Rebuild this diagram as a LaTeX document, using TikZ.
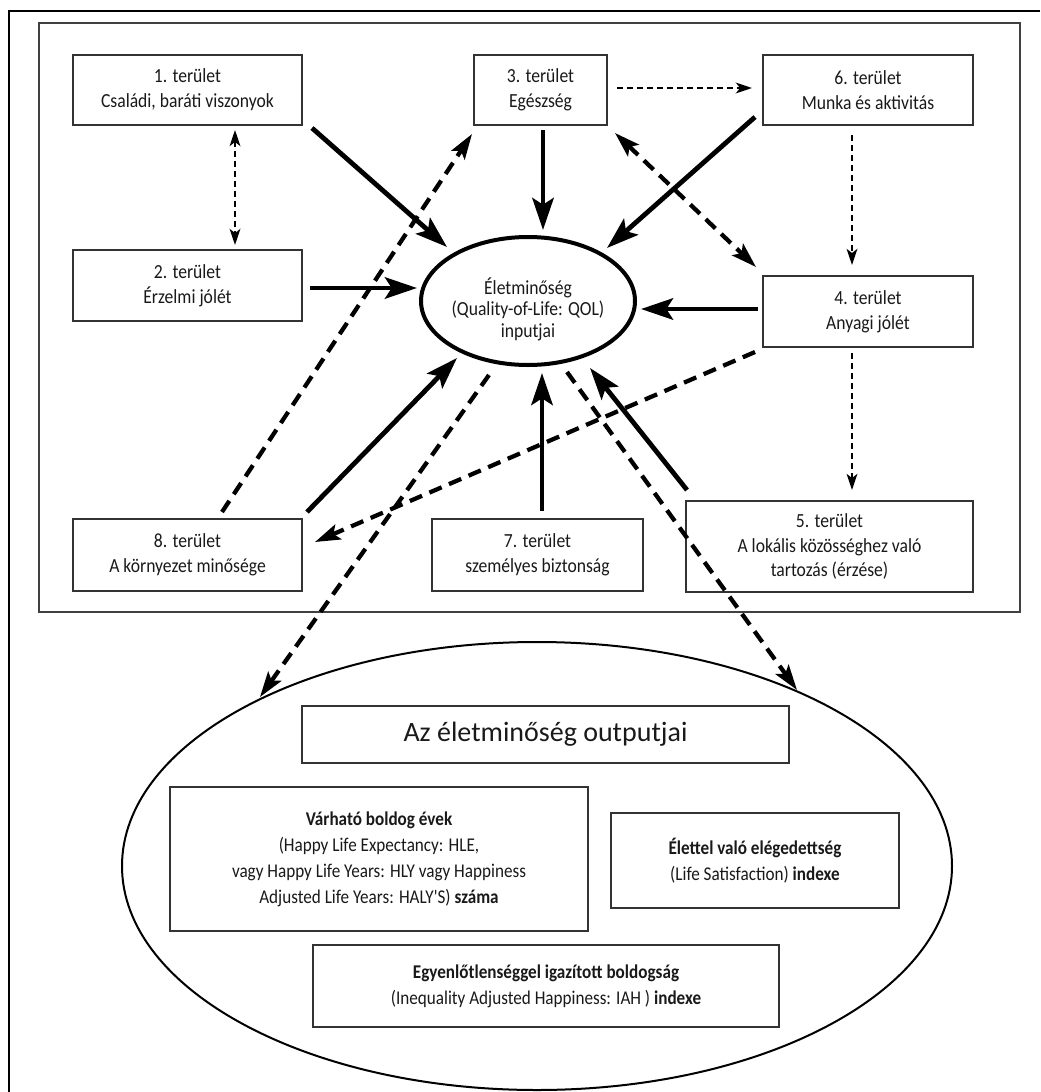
\documentclass[tikz,border=0pt]{standalone}
\usepackage{fontspec}
\setmainfont{Carlito}
\newfontfamily\boxfont{Carlito}[FakeStretch=0.88]
\usetikzlibrary{arrows.meta,shapes.geometric}
\begin{document}
\begin{tikzpicture}[x=0.75pt,y=-0.75pt,
  box/.style 2 args={draw=black!80, line width=1.1pt, inner sep=0pt, align=center,
    minimum width=#1*0.75pt, minimum height=#2*0.75pt,
    font=\boxfont\fontsize{15}{18.5}\selectfont, text=black!90},
  obox/.style 2 args={box={#1}{#2}, font=\boxfont\fontsize{14.6}{19.5}\selectfont},
  sol/.style={line width=3.6pt, -{Stealth[length=24pt,width=16pt,inset=5pt]}},
  thd/.style={line width=3.2pt, dash pattern=on 10pt off 6pt, -{Stealth[length=19pt,width=12pt,inset=4pt]}},
  thdd/.style={line width=3.2pt, dash pattern=on 10pt off 6pt, {Stealth[length=19pt,width=12pt,inset=4pt]}-{Stealth[length=19pt,width=12pt,inset=4pt]}},
  tnd/.style={line width=1.8pt, dash pattern=on 4.5pt off 3pt, -{Stealth[length=12pt,width=8pt,inset=3pt]}},
  tndd/.style={line width=1.8pt, dash pattern=on 4.5pt off 3pt, {Stealth[length=12pt,width=8pt,inset=3pt]}-{Stealth[length=12pt,width=8pt,inset=3pt]}}
]
\useasboundingbox (0,0) rectangle (1040,1092);
% frames
\draw[line width=1.6pt] (1040,11) -- (9,11) -- (9,1092);
\draw[line width=1.1pt, draw=black!75] (39,23) rectangle (1020,612);

% input boxes
\node[box={229}{70}] (b1) at (187.5,90) {1. terület\\Családi, baráti viszonyok};
\node[box={133}{70}] (b3) at (540.5,90) {3. terület\\Egészség};
\node[box={210}{70}] (b6) at (868,90) {6. terület\\Munka és aktivitás};
\node[box={229}{71}] (b2) at (187.5,285.5) {2. terület\\Érzelmi jólét};
\node[box={210}{71}] (b4) at (868,311.5) {4. terület\\Anyagi jólét};
\node[box={229}{72}] (b8) at (187.5,555) {8. terület\\A környezet minősége};
\node[box={211}{72}] (b7) at (537.5,555) {7. terület\\személyes biztonság};
\node[box={287}{91}] (b5) at (829.5,546.5) {5. terület\\A lokális közösséghez való\\tartozás (érzése)};

% central ellipse
\node[ellipse, draw=black, line width=3pt, inner sep=0pt, minimum width=214*0.75pt,
      minimum height=128*0.75pt] (qol) at (528,301) {};
\node[align=center, text=black!90, inner sep=0pt,
      font=\boxfont\fontsize{15}{16.2}\selectfont] (qoltext) at (528,309)
      {Életminőség\\(Quality-of-Life: QOL)\\inputjai};

% output ellipse
\node[ellipse, draw=black, line width=1.5pt, inner sep=0pt, minimum width=830*0.75pt,
      minimum height=448*0.75pt] (out) at (537,866) {};
\node[box={487}{57}, font=\fontsize{21}{24}\selectfont] (title) at (545.5,734.5) {Az életminőség outputjai};
\node[obox={418}{144}] (hle) at (379,859) {\textbf{Várható boldog évek}\\(Happy Life Expectancy: HLE,\\vagy Happy Life Years: HLY vagy Happiness\\Adjusted Life Years: HALY'S) \textbf{száma}};
\node[obox={288}{95}] (ls) at (755,860.5) {\textbf{Élettel való elégedettség}\\(Life Satisfaction) \textbf{indexe}};
\node[obox={466}{82}] (iah) at (546,986) {\textbf{Egyenlőtlenséggel igazított boldogság}\\(Inequality Adjusted Happiness: IAH ) \textbf{indexe}};

% connector end points
\coordinate (b1s) at (312,128);  \coordinate (q1) at (447,247);
\coordinate (b2s) at (310,288);  \coordinate (q2) at (417,288);
\coordinate (b3s) at (543,130);  \coordinate (q3) at (543,230);
\coordinate (b6s) at (755,117);  \coordinate (q6) at (607,248);
\coordinate (b4s) at (758,309);  \coordinate (q4) at (641,309);
\coordinate (b8s) at (307,512);  \coordinate (q8) at (457,358);
\coordinate (b7s) at (542,511);  \coordinate (q7) at (542,373);
\coordinate (b5s) at (687,490);  \coordinate (q5) at (590,368);

\coordinate (b1d) at (235,130);  \coordinate (b2u) at (235,245);
\coordinate (b3r) at (617,88);   \coordinate (b6l) at (752,88);
\coordinate (b6d) at (852,135);  \coordinate (b4u) at (852,265);
\coordinate (b4d) at (852,353);  \coordinate (b5u) at (852,490);
\coordinate (b3x) at (615,133);  \coordinate (b4x) at (756,267);
\coordinate (b4y) at (755,352);  \coordinate (b8y) at (315,542);
\coordinate (b8x) at (222,512);  \coordinate (b3y) at (472,134);
\coordinate (qL) at (489,375);   \coordinate (oL) at (260,697);
\coordinate (qR) at (567,372);   \coordinate (oR) at (797,690);

% solid arrows into QOL
\draw[sol] (b1s) -- (q1);
\draw[sol] (b2s) -- (q2);
\draw[sol] (b3s) -- (q3);
\draw[sol] (b6s) -- (q6);
\draw[sol] (b4s) -- (q4);
\draw[sol] (b8s) -- (q8);
\draw[sol] (b7s) -- (q7);
\draw[sol] (b5s) -- (q5);

% thin dashed
\draw[tndd] (b1d) -- (b2u);
\draw[tnd] (b3r) -- (b6l);
\draw[tnd] (b6d) -- (b4u);
\draw[tnd] (b4d) -- (b5u);

% thick dashed
\draw[thdd] (b3x) -- (b4x);
\draw[thd] (b4y) -- (b8y);
\draw[thd] (b8x) -- (b3y);
\draw[thd] (qL) -- (oL);
\draw[thd] (qR) -- (oR);
\end{tikzpicture}
\end{document}
